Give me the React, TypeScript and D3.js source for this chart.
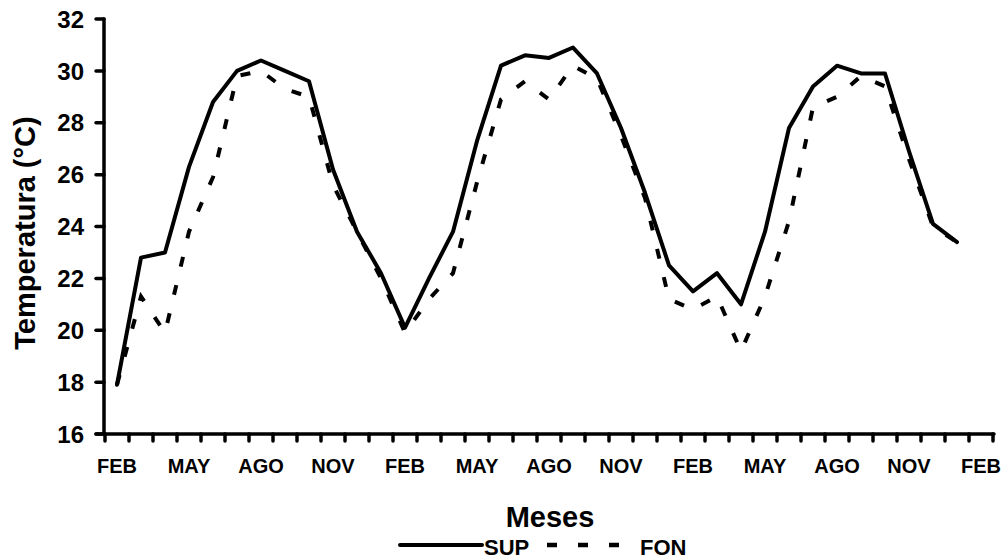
import React from "react";
import * as d3 from "d3";

const monthNames = ["FEB", "MAR", "ABR", "MAY", "JUN", "JUL", "AGO", "SEP", "OCT", "NOV", "DIC", "ENE"];
const categoryCount = 37;
const tickLabelEvery = 3;
const yTicks = [16, 18, 20, 22, 24, 26, 28, 30, 32];

const sup = [17.9, 22.8, 23.0, 26.3, 28.8, 30.0, 30.4, 30.0, 29.6, 26.2, 23.8, 22.2, 20.1, 22.0, 23.8, 27.3, 30.2, 30.6, 30.5, 30.9, 29.9, 27.8, 25.3, 22.5, 21.5, 22.2, 21.0, 23.8, 27.8, 29.4, 30.2, 29.9, 29.9, 26.9, 24.1, 23.4];
const fon = [17.9, 21.3, 19.9, 23.8, 25.9, 29.8, 30.0, 29.3, 29.0, 25.6, 23.8, 22.0, 19.9, 21.2, 22.2, 25.7, 28.9, 29.6, 28.9, 30.2, 29.7, 27.5, 25.1, 21.2, 20.8, 21.3, 19.2, 21.3, 24.2, 28.6, 29.0, 29.8, 29.4, 26.6, 24.0, 23.4];

const W = 1007;
const H = 559;
const FONT = "'Liberation Sans', Arial, Helvetica, sans-serif";

export default function App() {
  const categories = d3.range(categoryCount);
  const x = d3.scaleBand<number>().domain(categories).range([105, 993]).padding(0);
  const y = d3.scaleLinear().domain([16, 32]).range([434, 19]);
  const cx = (i: number) => (x(i) as number) + x.bandwidth() / 2;

  const line = d3
    .line<number>()
    .x((_, i) => cx(i))
    .y((d) => y(d));

  const boundaries = d3.range(categoryCount + 1).map((i) => 105 + i * x.bandwidth());

  return (
    <svg
      width={W}
      height={H}
      viewBox={`0 0 ${W} ${H}`}
      style={{ position: "absolute", left: 0, top: 0, background: "#fff" }}
      fontFamily={FONT}
    >
      <rect x={0} y={0} width={W} height={H} fill="#fff" />
      {/* y axis */}
      <line x1={104} x2={104} y1={y(32)} y2={y(16)} stroke="#000" strokeWidth={3.5} strokeLinecap="round" />
      {yTicks.map((t) => (
        <g key={t}>
          <line x1={96} x2={104} y1={y(t)} y2={y(t)} stroke="#000" strokeWidth={3.5} strokeLinecap="round" />
          <text x={84} y={y(t)} dy="0.36em" textAnchor="end" fontSize={24} fontWeight="bold">
            {t}
          </text>
        </g>
      ))}
      {/* x axis */}
      <line x1={96} x2={994} y1={434} y2={434} stroke="#000" strokeWidth={3.5} strokeLinecap="round" />
      {boundaries.map((b, i) => (
        <line key={i} x1={b} x2={b} y1={434} y2={441} stroke="#000" strokeWidth={3.5} strokeLinecap="round" />
      ))}
      {categories
        .filter((i) => i % tickLabelEvery === 0)
        .map((i) => (
          <text key={i} x={cx(i)} y={473} textAnchor="middle" fontSize={20} fontWeight="bold">
            {monthNames[i % 12]}
          </text>
        ))}
      {/* titles */}
      <text x={550} y={527} textAnchor="middle" fontSize={29} fontWeight="bold">
        Meses
      </text>
      <text
        transform={`translate(35, 233) rotate(-90)`}
        textAnchor="middle"
        fontSize={29}
        fontWeight="bold"
      >
        Temperatura (°C)
      </text>
      {/* series */}
      <path d={line(fon) || ""} fill="none" stroke="#000" strokeWidth={4} strokeDasharray="10,19" />
      <path d={line(sup) || ""} fill="none" stroke="#000" strokeWidth={4} strokeLinejoin="round" strokeLinecap="round" />
      {/* legend */}
      <line x1={400} x2={482} y1={545} y2={545} stroke="#000" strokeWidth={4} strokeLinecap="round" />
      <text x={484} y={555} fontSize={22} fontWeight="bold">SUP</text>
      <line x1={547} x2={619} y1={545} y2={545} stroke="#000" strokeWidth={4.5} strokeDasharray="10,21" />
      <text x={640} y={555} fontSize={22} fontWeight="bold">FON</text>
    </svg>
  );
}
